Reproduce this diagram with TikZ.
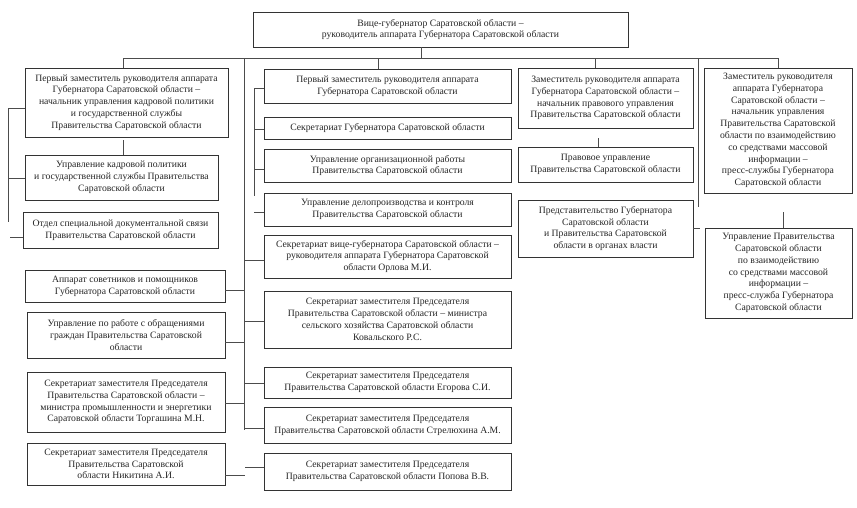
\documentclass[tikz,border=0pt]{standalone}
\usepackage{fontspec}
\setmainfont{Liberation Serif}
\begin{document}
\begin{tikzpicture}[x=1pt,y=-1pt,
  box/.style={draw=black!80, line width=0.95pt, inner sep=0pt, align=center,
    font=\fontsize{9.7}{11.8}\selectfont, text=black!85},
  conn/.style={draw=black!70, line width=0.9pt}]
\useasboundingbox[fill=white] (0,0) rectangle (857,507);
% top
\node[box, minimum width=375, minimum height=35] (top) at (440.5,29.5)
  {Вице-губернатор  Саратовской области –\\руководитель аппарата  Губернатора Саратовской области};
% left column
\node[box, minimum width=203, minimum height=69] (L1) at (126.5,102.5)
  {Первый заместитель руководителя аппарата\\Губернатора Саратовской области –\\начальник управления кадровой политики\\и государственной  службы\\Правительства Саратовской области};
\node[box, minimum width=193, minimum height=45] (L2) at (121.5,177.5)
  {Управление кадровой политики\\и государственной  службы Правительства\\Саратовской области};
\node[box, minimum width=195, minimum height=36] (L3) at (120.5,230)
  {Отдел специальной  документальной связи\\Правительства Саратовской области};
\node[box, minimum width=200, minimum height=32] (L4) at (125,286)
  {Аппарат советников и помощников\\Губернатора Саратовской области};
\node[box, minimum width=198, minimum height=46] (L5) at (126,335)
  {Управление по работе с обращениями\\граждан Правительства Саратовской\\области};
\node[box, minimum width=198, minimum height=60] (L6) at (126,402)
  {Секретариат заместителя Председателя\\Правительства Саратовской области –\\министра промышленности и энергетики\\Саратовской области  Торгашина М.Н.};
\node[box, minimum width=198, minimum height=42] (L7) at (126,464)
  {Секретариат заместителя Председателя\\Правительства Саратовской\\области Никитина А.И.};
% middle column
\node[box, minimum width=247, minimum height=34] (M1) at (387.5,86)
  {Первый заместитель руководителя аппарата\\Губернатора Саратовской области};
\node[box, minimum width=247, minimum height=22] (M2) at (387.5,128)
  {Секретариат Губернатора Саратовской области};
\node[box, minimum width=247, minimum height=33] (M3) at (387.5,165.5)
  {Управление организационной  работы\\Правительства Саратовской области};
\node[box, minimum width=247, minimum height=33] (M4) at (387.5,209.5)
  {Управление делопроизводства и контроля\\Правительства Саратовской области};
\node[box, minimum width=247, minimum height=43] (M5) at (387.5,256.5)
  {Секретариат вице-губернатора  Саратовской области –\\руководителя аппарата  Губернатора Саратовской\\области Орлова М.И.};
\node[box, minimum width=247, minimum height=57] (M6) at (387.5,319.5)
  {Секретариат  заместителя Председателя\\Правительства Саратовской области – министра\\сельского хозяйства Саратовской  области\\Ковальского Р.С.};
\node[box, minimum width=247, minimum height=31] (M7) at (387.5,382.5)
  {Секретариат  заместителя Председателя\\Правительства Саратовской области Егорова С.И.};
\node[box, minimum width=247, minimum height=36] (M8) at (387.5,425)
  {Секретариат  заместителя Председателя\\Правительства Саратовской области Стрелюхина  А.М.};
\node[box, minimum width=247, minimum height=37] (M9) at (387.5,471.5)
  {Секретариат  заместителя Председателя\\Правительства Саратовской области Попова В.В.};
% third column
\node[box, minimum width=175, minimum height=60] (R1) at (605.5,98)
  {Заместитель руководителя аппарата\\Губернатора Саратовской области –\\начальник правового управления\\Правительства Саратовской области};
\node[box, minimum width=175, minimum height=35] (R2) at (605.5,164.5)
  {Правовое управление\\Правительства Саратовской области};
\node[box, minimum width=175, minimum height=57] (R3) at (605.5,228.5)
  {Представительство Губернатора\\Саратовской области\\и Правительства Саратовской\\области в органах  власти};
% fourth column
\node[box, minimum width=148, minimum height=125] (R4) at (778,130.5)
  {Заместитель руководителя\\аппарата Губернатора\\Саратовской области –\\начальник управления\\Правительства Саратовской\\области по взаимодействию\\со средствами массовой\\информации –\\пресс-службы Губернатора\\Саратовской области};
\node[box, minimum width=147, minimum height=90] (R5) at (778.5,273)
  {Управление Правительства\\Саратовской области\\по взаимодействию\\со средствами массовой\\информации –\\пресс-служба Губернатора\\Саратовской области};
% bus coordinates
\coordinate (busL) at (123,58);
\coordinate (busR) at (778,58);
\coordinate (busA) at (244,58);
\coordinate (busAe) at (244,430);
\coordinate (busB) at (254,88);
\coordinate (busBe) at (254,196);
\coordinate (busC) at (698,58);
\coordinate (busCe) at (698,207);
\coordinate (busD) at (8,108);
\coordinate (busDe) at (8,222);
% connectors
\draw[conn] (top.south -| 421,0) -- (421,58);
\draw[conn] (busL) -- (busR);
\draw[conn] (busL) -- (L1.north -| busL);
\draw[conn] (378,58) -- (M1.north -| 378,0);
\draw[conn] (595,58) -- (R1.north -| 595,0);
\draw[conn] (busR) -- (R4.north -| busR);
% left far bus
\draw[conn] (busD) -- (busDe);
\draw[conn] (busD) -- (L1.west |- busD);
\draw[conn] (8,178) -- (L2.west |- 0,178);
\draw[conn] (10,237) -- (L3.west |- 0,237);
\draw[conn] (123,140) -- (L2.north -| 123,0);
% main vertical bus
\draw[conn] (busA) -- (busAe);
\draw[conn] (L4.east |- 0,290) -- (244,290);
\draw[conn] (L5.east |- 0,342) -- (244,342);
\draw[conn] (L6.east |- 0,403) -- (244,403);
\draw[conn] (L7.east |- 0,475) -- (245,475);
\draw[conn] (244,260) -- (M5.west |- 0,260);
\draw[conn] (244,321) -- (M6.west |- 0,321);
\draw[conn] (244,383) -- (M7.west |- 0,383);
\draw[conn] (244,428) -- (M8.west |- 0,428);
\draw[conn] (245,467) -- (M9.west |- 0,467);
% inner bus
\draw[conn] (busB) -- (busBe);
\draw[conn] (busB) -- (M1.west |- busB);
\draw[conn] (254,129) -- (M2.west |- 0,129);
\draw[conn] (254,169) -- (M3.west |- 0,169);
\draw[conn] (254,212) -- (M4.west |- 0,212);
% third / fourth
\draw[conn] (598,138) -- (R2.north -| 598,0);
\draw[conn] (busC) -- (busCe);
\draw[conn] (R3.east |- 0,228) -- (700,228);
\draw[conn] (783,212) -- (R5.north -| 783,0);
\end{tikzpicture}
\end{document}
